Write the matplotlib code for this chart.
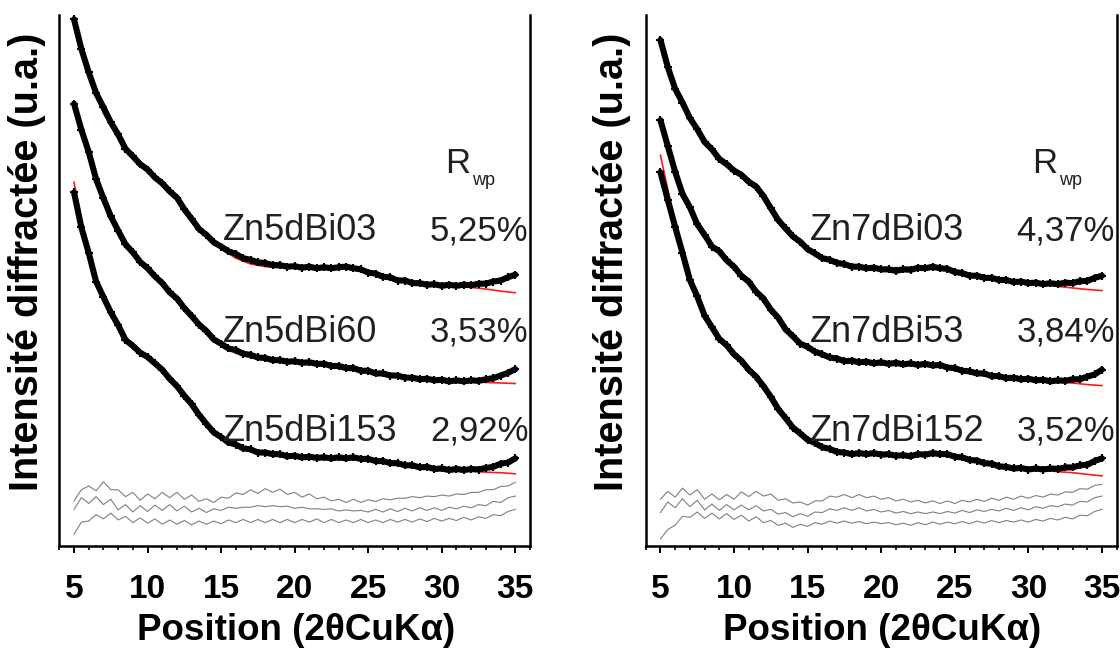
#DRX des poudres Zn5d / Zn7d avec affinement (Rwp)
import matplotlib
matplotlib.use("Agg")
import matplotlib.pyplot as plt
import numpy as np
from matplotlib.ticker import MultipleLocator

plt.rcParams['font.family'] = ['Liberation Sans', 'DejaVu Sans']

#grille en 2theta (deg)
x_obs = np.arange(5, 35.01, 0.5)
x_fit = np.arange(5, 36, 1)

#intensites (u.a.)
obs_5d03 = [99.2, 93.6, 89.2, 85.3, 82.6, 79.8, 77.5, 74.8, 73.4, 71.9,
            70.9, 69.4, 68.3, 66.8, 65.6, 63.4, 61.6, 59.7, 58.6, 57.2,
            56.4, 55.5, 55.0, 54.2, 53.9, 53.4, 53.3, 52.9, 52.9, 52.6,
            52.7, 52.4, 52.6, 52.3, 52.5, 52.3, 52.5, 52.6, 52.3, 52.1,
            51.5, 51.3, 50.7, 50.6, 50.0, 50.0, 49.5, 49.5, 49.2, 49.3,
            49.0, 49.2, 49.0, 49.2, 49.1, 49.4, 49.4, 49.8, 50.0, 50.6,
            51.1]
obs_5d60 = [83.3, 78.4, 74.2, 69.1, 65.5, 62.1, 59.4, 56.8, 55.3, 53.5,
            52.3, 50.8, 49.5, 47.8, 46.6, 44.8, 43.3, 41.7, 40.5, 38.9,
            38.1, 37.2, 36.9, 36.2, 36.0, 35.5, 35.4, 35.0, 35.0, 34.7,
            34.8, 34.5, 34.6, 34.3, 34.3, 33.9, 33.9, 33.5, 33.5, 33.0,
            33.0, 32.5, 32.5, 32.1, 32.1, 31.7, 31.7, 31.4, 31.5, 31.2,
            31.3, 31.0, 31.2, 31.0, 31.2, 31.1, 31.4, 31.6, 32.1, 32.6,
            33.3]
obs_5d153 = [66.6, 60.0, 55.2, 49.8, 46.9, 44.0, 41.6, 38.8, 37.7, 36.4,
             35.6, 34.4, 33.2, 31.5, 30.1, 28.3, 26.7, 24.7, 23.0, 21.4,
             20.5, 19.5, 19.1, 18.4, 18.2, 17.6, 17.6, 17.3, 17.3, 16.9,
             17.0, 16.7, 16.8, 16.6, 16.7, 16.5, 16.7, 16.5, 16.7, 16.4,
             16.4, 16.0, 16.0, 15.6, 15.6, 15.2, 15.2, 14.8, 14.9, 14.5,
             14.6, 14.3, 14.5, 14.3, 14.5, 14.4, 14.7, 14.9, 15.5, 15.7,
             16.5]
obs_7d03 = [95.3, 90.2, 86.1, 83.5, 80.6, 78.5, 76.1, 74.7, 72.9, 71.9,
            70.7, 69.9, 68.6, 67.7, 65.9, 63.6, 61.4, 59.8, 58.3, 57.3,
            55.9, 55.1, 54.2, 53.9, 53.3, 53.1, 52.6, 52.6, 52.3, 52.4,
            52.1, 52.1, 51.8, 52.1, 52.0, 52.4, 52.3, 52.6, 52.3, 52.2,
            51.6, 51.4, 50.9, 50.9, 50.5, 50.5, 50.1, 50.1, 49.7, 49.8,
            49.5, 49.6, 49.3, 49.5, 49.3, 49.6, 49.5, 49.9, 49.9, 50.5,
            50.9]
obs_7d53 = [80.2, 75.3, 70.5, 66.3, 63.8, 60.6, 58.6, 56.4, 55.5, 53.8,
            52.6, 50.9, 49.8, 47.9, 46.6, 44.5, 43.0, 40.8, 39.5, 38.1,
            37.5, 36.6, 36.1, 35.5, 35.3, 34.8, 34.9, 34.6, 34.7, 34.4,
            34.6, 34.3, 34.5, 34.2, 34.4, 34.1, 34.3, 34.0, 34.1, 33.6,
            33.5, 33.0, 32.9, 32.5, 32.5, 32.0, 32.0, 31.6, 31.7, 31.4,
            31.5, 31.2, 31.3, 31.0, 31.2, 31.1, 31.4, 31.4, 31.9, 32.3,
            33.2]
obs_7d152 = [70.4, 65.2, 60.1, 55.2, 50.1, 47.0, 43.4, 41.2, 39.0, 37.8,
             36.1, 34.9, 33.2, 31.9, 30.1, 28.1, 25.8, 24.1, 22.3, 21.2,
             20.0, 19.4, 18.6, 18.3, 17.7, 17.6, 17.3, 17.5, 17.3, 17.5,
             17.2, 17.3, 17.0, 17.1, 16.9, 17.3, 17.2, 17.5, 17.3, 17.3,
             16.8, 16.7, 16.2, 16.1, 15.6, 15.5, 15.0, 14.9, 14.6, 14.7,
             14.4, 14.6, 14.4, 14.6, 14.5, 14.8, 14.8, 15.2, 15.3, 16.0,
             16.5]

#courbes calculees (affinement)
fit_5d03 = [99.5, 88.5, 81.5, 76.8, 73.3, 70.8, 68.2, 65.6, 61.6, 58.6,
            56.0, 54.2, 53.1, 52.6, 52.4, 52.4, 52.5, 52.6, 52.8, 52.7,
            51.8, 50.9, 50.2, 49.7, 49.4, 49.2, 49.0, 48.7, 48.4, 48.0, 47.7]
fit_5d60 = [83.6, 73.5, 65.0, 59.2, 55.2, 52.2, 49.4, 46.5, 43.2, 40.3,
            37.8, 36.3, 35.5, 35.1, 34.8, 34.6, 34.5, 34.3, 34.0, 33.5,
            32.9, 32.4, 32.0, 31.6, 31.3, 31.1, 31.0, 30.9, 30.8, 30.7, 30.6]
fit_5d153 = [68.5, 54.6, 46.5, 41.3, 37.6, 35.5, 33.1, 30.0, 26.6, 23.0,
             20.3, 18.8, 17.9, 17.4, 17.1, 16.9, 16.8, 16.7, 16.7, 16.6,
             16.3, 15.9, 15.5, 15.1, 14.8, 14.5, 14.3, 14.1, 13.9, 13.8, 13.6]
fit_7d03 = [95.5, 86.0, 80.6, 76.3, 73.0, 70.8, 68.8, 66.3, 62.0, 58.2,
            55.5, 54.0, 53.2, 52.7, 52.5, 52.4, 52.4, 52.5, 52.6, 52.4,
            51.8, 51.1, 50.6, 50.2, 49.8, 49.5, 49.2, 48.9, 48.6, 48.3, 48.1]
fit_7d53 = [80.0, 69.3, 63.0, 58.3, 55.3, 52.5, 49.7, 46.6, 43.1, 39.3,
            37.0, 35.8, 35.2, 34.8, 34.6, 34.5, 34.5, 34.4, 34.3, 34.0,
            33.4, 32.8, 32.3, 31.9, 31.6, 31.3, 31.1, 30.9, 30.7, 30.4, 30.2]
fit_7d152 = [73.6, 60.8, 50.0, 43.3, 39.2, 36.2, 33.3, 30.2, 26.2, 22.6,
             20.0, 18.6, 17.9, 17.5, 17.4, 17.3, 17.3, 17.3, 17.4, 17.4,
             16.9, 16.3, 15.7, 15.2, 14.8, 14.5, 14.3, 14.0, 13.8, 13.5, 13.2]

#courbes de difference (obs - calc), decalees
res_5d03 = [8.5, 10.6, 11.3, 10.4, 12.1, 10.6, 10.6, 9.3, 10.1, 8.6,
            9.8, 8.9, 10.1, 9.1, 10.1, 8.8, 9.6, 8.4, 8.9, 8.2,
            9.2, 9.0, 10.0, 9.7, 10.6, 9.9, 10.8, 10.1, 10.7, 9.7,
            10.1, 9.2, 9.8, 8.9, 9.2, 8.5, 8.8, 8.2, 8.8, 8.2,
            8.7, 8.4, 8.9, 8.7, 9.0, 9.0, 9.3, 9.1, 9.4, 9.3,
            9.6, 9.4, 9.8, 9.7, 10.1, 10.1, 10.6, 10.6, 11.2, 11.3,
            12.0]
res_5d60 = [6.9, 9.1, 8.0, 9.3, 7.8, 8.8, 6.8, 7.8, 6.4, 7.6,
            6.5, 7.7, 6.7, 7.8, 6.6, 7.5, 6.4, 7.1, 6.3, 7.0,
            6.7, 7.3, 7.1, 7.3, 7.3, 7.6, 7.4, 7.6, 7.4, 7.5,
            7.1, 7.3, 7.0, 7.0, 6.9, 7.0, 6.6, 6.8, 6.6, 6.7,
            6.4, 6.9, 6.4, 7.0, 6.5, 7.1, 6.6, 7.2, 6.7, 7.2,
            6.7, 7.3, 7.0, 7.5, 7.2, 7.8, 7.6, 8.4, 8.2, 9.1,
            9.4]
res_5d153 = [2.2, 4.5, 4.7, 5.9, 5.1, 6.2, 4.9, 5.6, 4.4, 5.3,
             4.3, 5.1, 4.1, 4.9, 4.1, 4.8, 4.0, 4.7, 4.1, 4.7,
             4.2, 4.9, 4.4, 5.0, 4.4, 5.0, 4.4, 5.0, 4.4, 5.0,
             4.4, 5.0, 4.5, 5.1, 4.4, 5.0, 4.4, 4.9, 4.4, 5.0,
             4.4, 4.9, 4.4, 5.0, 4.5, 5.0, 4.5, 5.1, 4.6, 5.2,
             4.7, 5.2, 4.8, 5.4, 4.9, 5.5, 5.2, 5.9, 5.7, 6.5,
             6.9]
res_7d03 = [8.8, 10.3, 9.2, 10.9, 9.6, 10.6, 8.8, 9.8, 8.7, 9.7,
            8.8, 10.2, 9.3, 10.3, 9.4, 9.8, 8.6, 8.9, 8.1, 8.3,
            7.7, 8.5, 8.5, 9.4, 9.2, 9.7, 9.1, 9.7, 9.1, 9.4,
            8.8, 9.1, 8.5, 8.8, 8.3, 8.6, 8.1, 8.5, 8.0, 8.5,
            8.0, 8.6, 8.3, 8.8, 8.4, 9.0, 8.6, 9.2, 8.8, 9.4,
            9.0, 9.5, 9.2, 9.8, 9.6, 10.2, 10.1, 10.8, 10.7, 11.4,
            11.6]
res_7d53 = [6.3, 8.3, 7.2, 8.9, 7.4, 8.6, 6.8, 7.9, 6.7, 7.8,
            6.8, 7.7, 6.8, 7.6, 6.6, 6.9, 6.0, 6.3, 5.5, 6.1,
            5.6, 6.4, 6.3, 7.0, 6.7, 7.2, 6.7, 7.2, 6.6, 6.9,
            6.4, 6.7, 6.2, 6.5, 6.1, 6.4, 6.1, 6.4, 6.1, 6.5,
            6.2, 6.7, 6.3, 6.8, 6.5, 6.9, 6.6, 7.1, 6.7, 7.2,
            6.8, 7.4, 7.1, 7.6, 7.4, 7.9, 7.7, 8.4, 8.3, 9.1,
            9.4]
res_7d152 = [1.3, 3.1, 3.9, 5.6, 5.4, 6.4, 5.2, 6.2, 5.1, 6.1,
             5.0, 5.8, 4.7, 5.5, 4.4, 4.8, 3.9, 4.3, 3.5, 4.1,
             3.7, 4.4, 4.1, 4.7, 4.3, 4.7, 4.3, 4.6, 4.2, 4.5,
             4.2, 4.4, 4.0, 4.3, 3.9, 4.4, 4.0, 4.5, 4.1, 4.5,
             4.2, 4.6, 4.2, 4.7, 4.3, 4.8, 4.4, 4.8, 4.5, 4.9,
             4.5, 5.0, 4.7, 5.2, 4.9, 5.4, 5.1, 5.8, 5.7, 6.5,
             6.9]

noms_5d = ["Zn5dBi03", "Zn5dBi60", "Zn5dBi153"]
rwp_5d = ["5,25%", "3,53%", "2,92%"]
noms_7d = ["Zn7dBi03", "Zn7dBi53", "Zn7dBi152"]
rwp_7d = ["4,37%", "3,84%", "3,52%"]


def draw_panel(ax, obs, fit, res, noms, rwp):
    '''
    trace une serie : points obs (+), calcul (rouge), differences (gris)
    '''
    for r in res:
        ax.plot(x_obs, r, color='#808080', lw=0.8, zorder=1)
    for f in fit:
        ax.plot(x_fit, f, color='#ff1a1a', lw=1.2, zorder=2)
    for o in obs:
        ax.plot(x_obs, o, color='black', lw=4.4, marker='+', ms=6,
                mew=1.5, zorder=3, solid_capstyle='round')

    #etiquettes des echantillons et Rwp
    tcol = '#231f20'
    for nom, rw, yb in zip(noms, rwp, [57.6, 38.5, 19.8]):
        ax.text(15.15, yb, nom, fontsize=26, color=tcol, va='baseline')
        ax.text(29.2, yb, rw, fontsize=25, color=tcol, va='baseline')
    ax.text(30.25, 70.2, "R", fontsize=25, color=tcol, va='baseline')
    ax.text(32.05, 67.9, "wp", fontsize=13, color=tcol, va='baseline')

    ax.set_xlim(4, 36)
    ax.set_ylim(0, 100)
    ax.spines['top'].set_visible(False)
    for s in ['left', 'right', 'bottom']:
        ax.spines[s].set_linewidth(1.8)
    ax.set_yticks([])
    ax.xaxis.set_major_locator(MultipleLocator(5))
    ax.xaxis.set_minor_locator(MultipleLocator(1))
    ax.set_xticks(np.arange(5, 36, 5))
    ax.tick_params(axis='x', which='major', direction='out', length=5,
                   width=1.4, pad=15, labelsize=24)
    ax.tick_params(axis='x', which='minor', direction='out', length=3,
                   width=1.2)
    for lab in ax.get_xticklabels():
        lab.set_fontweight('bold')


fig = plt.figure(figsize=(11.2, 6.48), dpi=100)
ax1 = fig.add_axes([59.3 / 1120, 102 / 648, 470.7 / 1120, 531 / 648])
ax2 = fig.add_axes([645.7 / 1120, 102 / 648, 471 / 1120, 531 / 648])

draw_panel(ax1, [obs_5d03, obs_5d60, obs_5d153],
           [fit_5d03, fit_5d60, fit_5d153],
           [res_5d03, res_5d60, res_5d153], noms_5d, rwp_5d)
draw_panel(ax2, [obs_7d03, obs_7d53, obs_7d152],
           [fit_7d03, fit_7d53, fit_7d152],
           [res_7d03, res_7d53, res_7d152], noms_7d, rwp_7d)

#titres des axes
for xc, yl in [(27.5, 296), (612, 882)]:
    fig.text(xc / 1120, 1 - 262 / 648, "Intensité diffractée (u.a.)",
             rotation=90, ha='center', va='center', fontsize=28.5,
             fontweight='bold')
    fig.text(yl / 1120, 8 / 648, "Position (2θCuKα)", ha='center',
             va='baseline', fontsize=26.5, fontweight='bold')

fig.savefig("out.png", dpi=100)
